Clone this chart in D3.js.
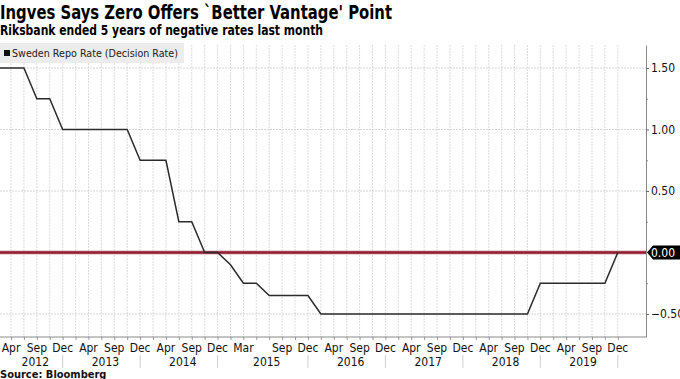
<!DOCTYPE html>
<html>
<head>
<meta charset="utf-8">
<script src="https://cdn.jsdelivr.net/npm/d3@7"></script>
<style>
  body { margin: 0; background: #fff; }
  text { font-family: "DejaVu Sans Condensed", "DejaVu Sans", sans-serif; }
</style>
</head>
<body>
<svg id="chart" width="680" height="379"></svg>
<script>
// Riksbank decision dates (one point per decision) and the repo rate after each
const decisions = [
  "Feb 2012", "Apr 2012", "Jul 2012", "Sep 2012", "Oct 2012", "Dec 2012",
  "Feb 2013", "Apr 2013", "Jul 2013", "Sep 2013", "Oct 2013", "Dec 2013",
  "Feb 2014", "Apr 2014", "Jul 2014", "Sep 2014", "Oct 2014", "Dec 2014",
  "Feb 2015", "Mar 2015", "Apr 2015", "Jul 2015", "Sep 2015", "Oct 2015", "Dec 2015",
  "Feb 2016", "Apr 2016", "Jul 2016", "Sep 2016", "Oct 2016", "Dec 2016",
  "Feb 2017", "Apr 2017", "Jul 2017", "Sep 2017", "Oct 2017", "Dec 2017",
  "Feb 2018", "Apr 2018", "Jul 2018", "Sep 2018", "Oct 2018", "Dec 2018",
  "Feb 2019", "Apr 2019", "Jul 2019", "Sep 2019", "Oct 2019", "Dec 2019"
];
const rates = [
  1.50, 1.50, 1.50, 1.25, 1.25, 1.00,
  1.00, 1.00, 1.00, 1.00, 1.00, 0.75,
  0.75, 0.75, 0.25, 0.25, 0.00, 0.00,
  -0.10, -0.25, -0.25, -0.35, -0.35, -0.35, -0.35,
  -0.50, -0.50, -0.50, -0.50, -0.50, -0.50,
  -0.50, -0.50, -0.50, -0.50, -0.50, -0.50,
  -0.50, -0.50, -0.50, -0.50, -0.50, -0.25,
  -0.25, -0.25, -0.25, -0.25, -0.25, 0.00
];

// labelled months on the bottom axis
const monthTicks = [
  "Apr 2012", "Sep 2012", "Dec 2012",
  "Apr 2013", "Sep 2013", "Dec 2013",
  "Apr 2014", "Sep 2014", "Dec 2014",
  "Mar 2015", "Sep 2015", "Dec 2015",
  "Apr 2016", "Sep 2016", "Dec 2016",
  "Apr 2017", "Sep 2017", "Dec 2017",
  "Apr 2018", "Sep 2018", "Dec 2018",
  "Apr 2019", "Sep 2019", "Dec 2019"
];
const years = ["2012", "2013", "2014", "2015", "2016", "2017", "2018", "2019"];

const yMajor = [1.5, 1.0, 0.5, -0.5];
const yMinor = [1.25, 0.75, 0.25, -0.25];

const plotLeft = 0, plotRight = 646, plotTop = 45, plotBottom = 337;

const svg = d3.select("#chart");

// title block
svg.append("text")
  .attr("x", 0).attr("y", 19)
  .attr("textLength", 392).attr("lengthAdjust", "spacingAndGlyphs")
  .style("font-size", "19px").style("font-weight", "bold")
  .text("Ingves Says Zero Offers `Better Vantage' Point");

svg.append("text")
  .attr("x", 0).attr("y", 35)
  .attr("textLength", 323).attr("lengthAdjust", "spacingAndGlyphs")
  .style("font-size", "13.5px").style("font-weight", "bold")
  .text("Riksbank ended 5 years of negative rates last month");

const x = d3.scalePoint()
  .domain(decisions)
  .range([-1.9, 617.8]);

const y = d3.scaleLinear()
  .domain([-0.687, 1.687])
  .range([plotBottom, plotTop]);

const plot = svg.append("g");

svg.append("clipPath").attr("id", "clip")
  .append("rect")
  .attr("x", plotLeft).attr("y", plotTop)
  .attr("width", plotRight - plotLeft).attr("height", plotBottom - plotTop);

// vertical grid, one per decision
plot.selectAll(".vgrid")
  .data(decisions)
  .join("line")
  .attr("class", "vgrid")
  .attr("x1", (d) => x(d)).attr("x2", (d) => x(d))
  .attr("y1", plotTop).attr("y2", plotBottom)
  .attr("stroke", "#dcdcdc")
  .attr("stroke-width", 1)
  .attr("stroke-dasharray", "2,1")
  .attr("clip-path", "url(#clip)");

// horizontal grid
plot.selectAll(".hgrid")
  .data(yMajor)
  .join("line")
  .attr("class", "hgrid")
  .attr("x1", plotLeft).attr("x2", plotRight)
  .attr("y1", (d) => y(d)).attr("y2", (d) => y(d))
  .attr("stroke", "#d6d6d6")
  .attr("stroke-dasharray", "2,1");

// legend box
svg.append("rect")
  .attr("x", 0).attr("y", 43)
  .attr("width", 184).attr("height", 20)
  .attr("fill", "#ececec");
svg.append("rect")
  .attr("x", 4).attr("y", 50)
  .attr("width", 6).attr("height", 6)
  .attr("fill", "#111");
svg.append("text")
  .attr("x", 12).attr("y", 57)
  .attr("textLength", 166).attr("lengthAdjust", "spacingAndGlyphs")
  .style("font-size", "10.5px")
  .attr("fill", "#222")
  .text("Sweden Repo Rate (Decision Rate)");

// zero line
plot.append("line")
  .attr("x1", plotLeft).attr("x2", plotRight)
  .attr("y1", y(0)).attr("y2", y(0))
  .attr("stroke", "#d9a3ad")
  .attr("stroke-width", 4);
plot.append("line")
  .attr("x1", plotLeft).attr("x2", plotRight)
  .attr("y1", y(0)).attr("y2", y(0))
  .attr("stroke", "#8f1f35")
  .attr("stroke-width", 2.4);

// the rate line
const line = d3.line()
  .x((d, i) => x(decisions[i]))
  .y((d) => y(d));

plot.append("path")
  .datum(rates)
  .attr("d", line)
  .attr("fill", "none")
  .attr("stroke", "#2b2b2b")
  .attr("stroke-width", 1.5)
  .attr("clip-path", "url(#clip)");

// bottom axis: baseline + a tick at every decision
const xAxis = svg.append("g")
  .attr("transform", `translate(0,${plotBottom})`)
  .call(d3.axisBottom(x).tickValues(decisions).tickSize(3).tickSizeOuter(0).tickFormat(""));
xAxis.select(".domain").remove();
xAxis.selectAll(".tick line").attr("stroke", "#999");
svg.append("line")
  .attr("x1", plotLeft).attr("x2", plotRight)
  .attr("y1", plotBottom).attr("y2", plotBottom)
  .attr("stroke", "#8a8a8a");

svg.selectAll(".mlabel")
  .data(monthTicks)
  .join("text")
  .attr("class", "mlabel")
  .attr("x", (d) => x(d))
  .attr("y", 352)
  .attr("text-anchor", "middle")
  .style("font-size", "12px")
  .attr("fill", "#111")
  .text((d) => d.split(" ")[0]);

// year row with separators at the last decision of each year
const yearEnds = years.map((yr) => x("Dec " + yr));
svg.selectAll(".ysep")
  .data(yearEnds)
  .join("line")
  .attr("class", "ysep")
  .attr("x1", (d) => d).attr("x2", (d) => d)
  .attr("y1", 355).attr("y2", 368)
  .attr("stroke", "#cfcfcf");

svg.selectAll(".ylabel")
  .data(years)
  .join("text")
  .attr("class", "ylabel")
  .attr("x", (d, i) => ((i === 0 ? plotLeft : yearEnds[i - 1]) + yearEnds[i]) / 2 + 4)
  .attr("y", 366)
  .attr("text-anchor", "middle")
  .style("font-size", "12px")
  .attr("fill", "#111")
  .text((d) => d);

// right axis
const yAxis = svg.append("g")
  .attr("transform", `translate(${plotRight},0)`)
  .call(d3.axisRight(y).tickValues(yMajor).tickSize(3).tickSizeOuter(0).tickFormat(d3.format(".2f")));
yAxis.select(".domain").attr("stroke", "#8a8a8a");
yAxis.selectAll(".tick line").attr("stroke", "#666");
yAxis.selectAll(".tick text")
  .attr("x", 5)
  .style("font-size", "12px")
  .style("font-family", "'DejaVu Sans Condensed', 'DejaVu Sans', sans-serif")
  .attr("fill", "#111");

const yMinorAxis = svg.append("g")
  .attr("transform", `translate(${plotRight},0)`)
  .call(d3.axisRight(y).tickValues(yMinor).tickSize(2).tickSizeOuter(0).tickFormat(""));
yMinorAxis.select(".domain").remove();
yMinorAxis.selectAll(".tick line").attr("stroke", "#888");

// last value badge at zero
const by = y(0);
svg.append("path")
  .attr("d", `M${plotRight + 1},${by} L${plotRight + 7},${by - 7} L680,${by - 7} L680,${by + 7} L${plotRight + 7},${by + 7} Z`)
  .attr("fill", "#000");
svg.append("text")
  .attr("x", plotRight + 5).attr("y", by + 4.5)
  .style("font-size", "12px")
  .attr("fill", "#fff")
  .text("0.00");

// source
svg.append("text")
  .attr("x", 0).attr("y", 378)
  .style("font-size", "11px").style("font-weight", "bold")
  .attr("fill", "#111")
  .text("Source: Bloomberg");
</script>
</body>
</html>
